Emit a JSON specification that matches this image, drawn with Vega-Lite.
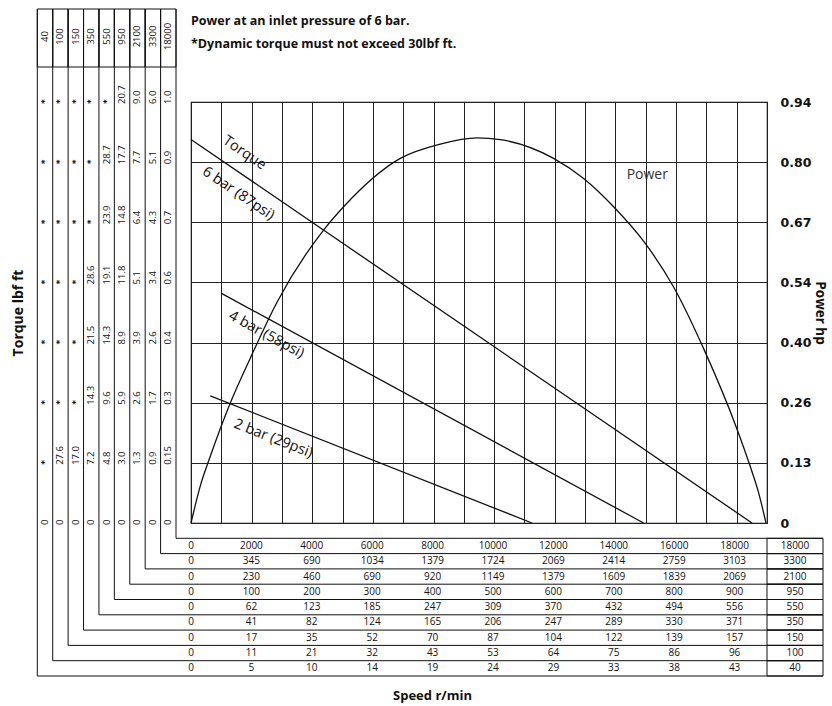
{
  "$schema": "https://vega.github.io/schema/vega-lite/v6.json",
  "width": 576,
  "height": 421,
  "autosize": {"type": "none"},
  "padding": {"left": 191, "top": 102, "right": 65, "bottom": 183},
  "background": "white",
  "config": {
    "view": {"stroke": "#111", "strokeWidth": 1.2},
    "font": "Open Sans",
    "text": {"font": "Open Sans", "color": "#111"}
  },
  "title": {
    "text": ["Power at an inlet pressure of 6 bar.", "*Dynamic torque must not exceed 30lbf ft."],
    "anchor": "start",
    "frame": "group",
    "font": "Open Sans",
    "fontSize": 12.5,
    "fontWeight": "bold",
    "color": "#111",
    "lineHeight": 23,
    "offset": -42
  },
  "datasets": {
    "power": [
      {"rpm": 0, "hp": 0},
      {"rpm": 307, "hp": 0.083},
      {"rpm": 637, "hp": 0.149},
      {"rpm": 1273, "hp": 0.264},
      {"rpm": 1956, "hp": 0.368},
      {"rpm": 2837, "hp": 0.493},
      {"rpm": 4374, "hp": 0.654},
      {"rpm": 5034, "hp": 0.706},
      {"rpm": 6904, "hp": 0.814},
      {"rpm": 8223, "hp": 0.846},
      {"rpm": 9434, "hp": 0.860},
      {"rpm": 10203, "hp": 0.856},
      {"rpm": 11961, "hp": 0.814},
      {"rpm": 12951, "hp": 0.769},
      {"rpm": 13940, "hp": 0.706},
      {"rpm": 14953, "hp": 0.627},
      {"rpm": 15919, "hp": 0.527},
      {"rpm": 16932, "hp": 0.386},
      {"rpm": 17987, "hp": 0.214},
      {"rpm": 18449, "hp": 0.126},
      {"rpm": 18713, "hp": 0.070},
      {"rpm": 18967, "hp": 0}
    ],
    "torque": [
      {"pressure": "6 bar", "rpm": 0, "torque": 0.911},
      {"pressure": "6 bar", "rpm": 18505, "torque": 0},
      {"pressure": "4 bar", "rpm": 990, "torque": 0.546},
      {"pressure": "4 bar", "rpm": 14930, "torque": 0},
      {"pressure": "2 bar", "rpm": 637, "torque": 0.302},
      {"pressure": "2 bar", "rpm": 11248, "torque": 0}
    ],
    "models": [
      {"model": "40"}, {"model": "100"}, {"model": "150"}, {"model": "350"}, {"model": "550"},
      {"model": "950"}, {"model": "2100"}, {"model": "3300"}, {"model": "18000"}
    ],
    "torqueTable": [
      {"model": "40", "level": 0, "value": "0"}, {"model": "40", "level": 1, "value": "*"}, {"model": "40", "level": 2, "value": "*"}, {"model": "40", "level": 3, "value": "*"}, {"model": "40", "level": 4, "value": "*"}, {"model": "40", "level": 5, "value": "*"}, {"model": "40", "level": 6, "value": "*"}, {"model": "40", "level": 7, "value": "*"},
      {"model": "100", "level": 0, "value": "0"}, {"model": "100", "level": 1, "value": "27.6"}, {"model": "100", "level": 2, "value": "*"}, {"model": "100", "level": 3, "value": "*"}, {"model": "100", "level": 4, "value": "*"}, {"model": "100", "level": 5, "value": "*"}, {"model": "100", "level": 6, "value": "*"}, {"model": "100", "level": 7, "value": "*"},
      {"model": "150", "level": 0, "value": "0"}, {"model": "150", "level": 1, "value": "17.0"}, {"model": "150", "level": 2, "value": "*"}, {"model": "150", "level": 3, "value": "*"}, {"model": "150", "level": 4, "value": "*"}, {"model": "150", "level": 5, "value": "*"}, {"model": "150", "level": 6, "value": "*"}, {"model": "150", "level": 7, "value": "*"},
      {"model": "350", "level": 0, "value": "0"}, {"model": "350", "level": 1, "value": "7.2"}, {"model": "350", "level": 2, "value": "14.3"}, {"model": "350", "level": 3, "value": "21.5"}, {"model": "350", "level": 4, "value": "28.6"}, {"model": "350", "level": 5, "value": "*"}, {"model": "350", "level": 6, "value": "*"}, {"model": "350", "level": 7, "value": "*"},
      {"model": "550", "level": 0, "value": "0"}, {"model": "550", "level": 1, "value": "4.8"}, {"model": "550", "level": 2, "value": "9.6"}, {"model": "550", "level": 3, "value": "14.3"}, {"model": "550", "level": 4, "value": "19.1"}, {"model": "550", "level": 5, "value": "23.9"}, {"model": "550", "level": 6, "value": "28.7"}, {"model": "550", "level": 7, "value": "*"},
      {"model": "950", "level": 0, "value": "0"}, {"model": "950", "level": 1, "value": "3.0"}, {"model": "950", "level": 2, "value": "5.9"}, {"model": "950", "level": 3, "value": "8.9"}, {"model": "950", "level": 4, "value": "11.8"}, {"model": "950", "level": 5, "value": "14.8"}, {"model": "950", "level": 6, "value": "17.7"}, {"model": "950", "level": 7, "value": "20.7"},
      {"model": "2100", "level": 0, "value": "0"}, {"model": "2100", "level": 1, "value": "1.3"}, {"model": "2100", "level": 2, "value": "2.6"}, {"model": "2100", "level": 3, "value": "3.9"}, {"model": "2100", "level": 4, "value": "5.1"}, {"model": "2100", "level": 5, "value": "6.4"}, {"model": "2100", "level": 6, "value": "7.7"}, {"model": "2100", "level": 7, "value": "9.0"},
      {"model": "3300", "level": 0, "value": "0"}, {"model": "3300", "level": 1, "value": "0.9"}, {"model": "3300", "level": 2, "value": "1.7"}, {"model": "3300", "level": 3, "value": "2.6"}, {"model": "3300", "level": 4, "value": "3.4"}, {"model": "3300", "level": 5, "value": "4.3"}, {"model": "3300", "level": 6, "value": "5.1"}, {"model": "3300", "level": 7, "value": "6.0"},
      {"model": "18000", "level": 0, "value": "0"}, {"model": "18000", "level": 1, "value": "0.15"}, {"model": "18000", "level": 2, "value": "0.3"}, {"model": "18000", "level": 3, "value": "0.4"}, {"model": "18000", "level": 4, "value": "0.6"}, {"model": "18000", "level": 5, "value": "0.7"}, {"model": "18000", "level": 6, "value": "0.9"}, {"model": "18000", "level": 7, "value": "1.0"}
    ],
    "speedTable": [
      {"model": "18000", "col": "0", "value": 0}, {"model": "18000", "col": "2000", "value": 2000}, {"model": "18000", "col": "4000", "value": 4000}, {"model": "18000", "col": "6000", "value": 6000}, {"model": "18000", "col": "8000", "value": 8000}, {"model": "18000", "col": "10000", "value": 10000}, {"model": "18000", "col": "12000", "value": 12000}, {"model": "18000", "col": "14000", "value": 14000}, {"model": "18000", "col": "16000", "value": 16000}, {"model": "18000", "col": "18000", "value": 18000}, {"model": "18000", "col": "max", "value": 18000},
      {"model": "3300", "col": "0", "value": 0}, {"model": "3300", "col": "2000", "value": 345}, {"model": "3300", "col": "4000", "value": 690}, {"model": "3300", "col": "6000", "value": 1034}, {"model": "3300", "col": "8000", "value": 1379}, {"model": "3300", "col": "10000", "value": 1724}, {"model": "3300", "col": "12000", "value": 2069}, {"model": "3300", "col": "14000", "value": 2414}, {"model": "3300", "col": "16000", "value": 2759}, {"model": "3300", "col": "18000", "value": 3103}, {"model": "3300", "col": "max", "value": 3300},
      {"model": "2100", "col": "0", "value": 0}, {"model": "2100", "col": "2000", "value": 230}, {"model": "2100", "col": "4000", "value": 460}, {"model": "2100", "col": "6000", "value": 690}, {"model": "2100", "col": "8000", "value": 920}, {"model": "2100", "col": "10000", "value": 1149}, {"model": "2100", "col": "12000", "value": 1379}, {"model": "2100", "col": "14000", "value": 1609}, {"model": "2100", "col": "16000", "value": 1839}, {"model": "2100", "col": "18000", "value": 2069}, {"model": "2100", "col": "max", "value": 2100},
      {"model": "950", "col": "0", "value": 0}, {"model": "950", "col": "2000", "value": 100}, {"model": "950", "col": "4000", "value": 200}, {"model": "950", "col": "6000", "value": 300}, {"model": "950", "col": "8000", "value": 400}, {"model": "950", "col": "10000", "value": 500}, {"model": "950", "col": "12000", "value": 600}, {"model": "950", "col": "14000", "value": 700}, {"model": "950", "col": "16000", "value": 800}, {"model": "950", "col": "18000", "value": 900}, {"model": "950", "col": "max", "value": 950},
      {"model": "550", "col": "0", "value": 0}, {"model": "550", "col": "2000", "value": 62}, {"model": "550", "col": "4000", "value": 123}, {"model": "550", "col": "6000", "value": 185}, {"model": "550", "col": "8000", "value": 247}, {"model": "550", "col": "10000", "value": 309}, {"model": "550", "col": "12000", "value": 370}, {"model": "550", "col": "14000", "value": 432}, {"model": "550", "col": "16000", "value": 494}, {"model": "550", "col": "18000", "value": 556}, {"model": "550", "col": "max", "value": 550},
      {"model": "350", "col": "0", "value": 0}, {"model": "350", "col": "2000", "value": 41}, {"model": "350", "col": "4000", "value": 82}, {"model": "350", "col": "6000", "value": 124}, {"model": "350", "col": "8000", "value": 165}, {"model": "350", "col": "10000", "value": 206}, {"model": "350", "col": "12000", "value": 247}, {"model": "350", "col": "14000", "value": 289}, {"model": "350", "col": "16000", "value": 330}, {"model": "350", "col": "18000", "value": 371}, {"model": "350", "col": "max", "value": 350},
      {"model": "150", "col": "0", "value": 0}, {"model": "150", "col": "2000", "value": 17}, {"model": "150", "col": "4000", "value": 35}, {"model": "150", "col": "6000", "value": 52}, {"model": "150", "col": "8000", "value": 70}, {"model": "150", "col": "10000", "value": 87}, {"model": "150", "col": "12000", "value": 104}, {"model": "150", "col": "14000", "value": 122}, {"model": "150", "col": "16000", "value": 139}, {"model": "150", "col": "18000", "value": 157}, {"model": "150", "col": "max", "value": 150},
      {"model": "100", "col": "0", "value": 0}, {"model": "100", "col": "2000", "value": 11}, {"model": "100", "col": "4000", "value": 21}, {"model": "100", "col": "6000", "value": 32}, {"model": "100", "col": "8000", "value": 43}, {"model": "100", "col": "10000", "value": 53}, {"model": "100", "col": "12000", "value": 64}, {"model": "100", "col": "14000", "value": 75}, {"model": "100", "col": "16000", "value": 86}, {"model": "100", "col": "18000", "value": 96}, {"model": "100", "col": "max", "value": 100},
      {"model": "40", "col": "0", "value": 0}, {"model": "40", "col": "2000", "value": 5}, {"model": "40", "col": "4000", "value": 10}, {"model": "40", "col": "6000", "value": 14}, {"model": "40", "col": "8000", "value": 19}, {"model": "40", "col": "10000", "value": 24}, {"model": "40", "col": "12000", "value": 29}, {"model": "40", "col": "14000", "value": 33}, {"model": "40", "col": "16000", "value": 38}, {"model": "40", "col": "18000", "value": 43}, {"model": "40", "col": "max", "value": 40}
    ]
  },
  "layer": [
    {
      "data": {"name": "power"},
      "mark": {"type": "line", "interpolate": "monotone", "stroke": "#111", "strokeWidth": 1.3},
      "encoding": {
        "x": {
          "field": "rpm", "type": "quantitative",
          "scale": {"domain": [0, 19000], "nice": false, "zero": false},
          "axis": {
            "orient": "bottom", "grid": true, "gridColor": "#222", "gridWidth": 1, "gridOpacity": 1,
            "tickCount": 19, "labels": false, "ticks": false, "domain": false,
            "title": "Speed r/min", "titleFont": "Open Sans", "titleFontSize": 13, "titleFontWeight": "bold",
            "titleColor": "#111", "titlePadding": 166, "titleX": 241
          }
        },
        "y": {
          "field": "hp", "type": "quantitative",
          "scale": {"domain": [0, 0.94], "nice": false, "zero": true},
          "axis": {
            "orient": "right",
            "values": [0, 0.134286, 0.268571, 0.402857, 0.537143, 0.671429, 0.805714, 0.94],
            "grid": true, "gridColor": "#222", "gridWidth": 1, "gridOpacity": 1,
            "labelExpr": "['0','0.13','0.26','0.40','0.54','0.67','0.80','0.94'][round(datum.value*7/0.94)]",
            "labelFont": "DejaVu Sans", "labelFontSize": 12.5, "labelFontWeight": "bold", "labelColor": "#111",
            "labelPadding": 13, "labelOverlap": false, "labelFlush": false, "labelBound": false,
            "ticks": false, "domain": false,
            "title": "Power hp", "titleFont": "Open Sans", "titleFontSize": 13.5, "titleFontWeight": "bold",
            "titleColor": "#111", "titlePadding": 2
          }
        }
      }
    },
    {
      "data": {"name": "torque"},
      "mark": {"type": "line", "stroke": "#111", "strokeWidth": 1.3},
      "encoding": {
        "x": {"field": "rpm", "type": "quantitative", "scale": {"domain": [0, 19000], "nice": false, "zero": false}, "axis": null},
        "y": {
          "field": "torque", "type": "quantitative",
          "scale": {"domain": [0, 1], "nice": false},
          "axis": {
            "orient": "left", "labels": false, "ticks": false, "domain": false, "grid": false,
            "title": "Torque lbf ft", "titleFont": "Open Sans", "titleFontSize": 14, "titleFontWeight": "bold",
            "titleColor": "#111", "titlePadding": 166
          }
        },
        "detail": {"field": "pressure", "type": "nominal"}
      }
    },
    {
      "data": {"values": [
        {"label": "Torque", "rpm": 1758, "hp": 0.826},
        {"label": "6 bar (87psi)", "rpm": 1560, "hp": 0.735}
      ]},
      "mark": {"type": "text", "angle": 34, "fontSize": 14.5, "align": "center", "baseline": "middle", "color": "#111"},
      "encoding": {
        "x": {"field": "rpm", "type": "quantitative", "scale": {"domain": [0, 19000], "nice": false, "zero": false}, "axis": null},
        "y": {"field": "hp", "type": "quantitative", "scale": {"domain": [0, 0.94], "nice": false}, "axis": null},
        "text": {"field": "label", "type": "nominal"}
      }
    },
    {
      "data": {"values": [{"label": "4 bar (58psi)", "rpm": 2484, "hp": 0.420}]},
      "mark": {"type": "text", "angle": 28.5, "fontSize": 14.5, "align": "center", "baseline": "middle", "color": "#111"},
      "encoding": {
        "x": {"field": "rpm", "type": "quantitative", "scale": {"domain": [0, 19000], "nice": false, "zero": false}, "axis": null},
        "y": {"field": "hp", "type": "quantitative", "scale": {"domain": [0, 0.94], "nice": false}, "axis": null},
        "text": {"field": "label", "type": "nominal"}
      }
    },
    {
      "data": {"values": [{"label": "2 bar (29psi)", "rpm": 2715, "hp": 0.188}]},
      "mark": {"type": "text", "angle": 21.5, "fontSize": 14.5, "align": "center", "baseline": "middle", "color": "#111"},
      "encoding": {
        "x": {"field": "rpm", "type": "quantitative", "scale": {"domain": [0, 19000], "nice": false, "zero": false}, "axis": null},
        "y": {"field": "hp", "type": "quantitative", "scale": {"domain": [0, 0.94], "nice": false}, "axis": null},
        "text": {"field": "label", "type": "nominal"}
      }
    },
    {
      "data": {"values": [{"label": "Power", "rpm": 15051, "hp": 0.777}]},
      "mark": {"type": "text", "fontSize": 14, "align": "center", "baseline": "middle", "color": "#333"},
      "encoding": {
        "x": {"field": "rpm", "type": "quantitative", "scale": {"domain": [0, 19000], "nice": false, "zero": false}, "axis": null},
        "y": {"field": "hp", "type": "quantitative", "scale": {"domain": [0, 0.94], "nice": false}, "axis": null},
        "text": {"field": "label", "type": "nominal"}
      }
    },
    {
      "data": {"name": "models"},
      "mark": {"type": "rect", "filled": false, "stroke": "#111", "strokeWidth": 1},
      "encoding": {
        "x": {"field": "model", "type": "nominal", "scale": {"type": "band", "domain": ["40", "100", "150", "350", "550", "950", "2100", "3300", "18000"], "range": [-153.7, -15], "paddingInner": 0, "paddingOuter": 0}, "axis": null},
        "y": {"value": -93},
        "y2": {"value": -35}
      }
    },
    {
      "data": {"name": "torqueTable"},
      "transform": [{"filter": "datum.value != '*'"}],
      "mark": {"type": "text", "angle": 270, "align": "left", "baseline": "middle", "dx": -2, "font": "Open Sans", "fontSize": 9.5, "color": "#111"},
      "encoding": {
        "x": {
          "field": "model", "type": "nominal", "bandPosition": 0.5,
          "scale": {"type": "band", "domain": ["40", "100", "150", "350", "550", "950", "2100", "3300", "18000"], "range": [-153.7, -15], "paddingInner": 0, "paddingOuter": 0},
          "axis": {
            "orient": "top", "offset": 35, "domain": false, "ticks": false, "grid": false,
            "labelAngle": 270, "labelAlign": "center", "labelBaseline": "middle", "labelPadding": 31,
            "labelFont": "Open Sans", "labelFontSize": 9.5, "labelColor": "#111",
            "labelOverlap": false, "labelBound": false, "labelFlush": false, "title": null
          }
        },
        "y": {"field": "level", "type": "quantitative", "scale": {"domain": [0, 7], "nice": false}, "axis": null},
        "text": {"field": "value", "type": "nominal"}
      }
    },
    {
      "data": {"name": "torqueTable"},
      "transform": [{"filter": "datum.value == '*'"}],
      "mark": {"type": "text", "angle": 270, "align": "left", "baseline": "middle", "dx": -2, "font": "DejaVu Sans", "fontSize": 9, "fontWeight": "bold", "color": "#000"},
      "encoding": {
        "x": {
          "field": "model", "type": "nominal", "bandPosition": 0.5,
          "scale": {"type": "band", "domain": ["40", "100", "150", "350", "550", "950", "2100", "3300", "18000"], "range": [-153.7, -15], "paddingInner": 0, "paddingOuter": 0},
          "axis": null
        },
        "y": {"field": "level", "type": "quantitative", "scale": {"domain": [0, 7], "nice": false}, "axis": null},
        "text": {"field": "value", "type": "nominal"}
      }
    },
    {
      "data": {"name": "models"},
      "mark": {"type": "rule", "stroke": "#111", "strokeWidth": 1},
      "encoding": {
        "x": {"field": "model", "type": "nominal", "bandPosition": 0, "scale": {"type": "band", "domain": ["40", "100", "150", "350", "550", "950", "2100", "3300", "18000"], "range": [-153.7, -15], "paddingInner": 0, "paddingOuter": 0}, "axis": null},
        "y": {"field": "model", "type": "nominal", "bandPosition": 1, "scale": {"type": "band", "domain": ["18000", "3300", "2100", "950", "550", "350", "150", "100", "40"], "range": [436.3, 574], "paddingInner": 0, "paddingOuter": 0}, "axis": null},
        "y2": {"value": -93}
      }
    },
    {
      "data": {"name": "models"},
      "mark": {"type": "rule", "stroke": "#111", "strokeWidth": 1},
      "encoding": {
        "x": {"field": "model", "type": "nominal", "bandPosition": 0, "scale": {"type": "band", "domain": ["40", "100", "150", "350", "550", "950", "2100", "3300", "18000"], "range": [-153.7, -15], "paddingInner": 0, "paddingOuter": 0}, "axis": null},
        "x2": {"value": 632},
        "y": {"field": "model", "type": "nominal", "bandPosition": 1, "scale": {"type": "band", "domain": ["18000", "3300", "2100", "950", "550", "350", "150", "100", "40"], "range": [436.3, 574], "paddingInner": 0, "paddingOuter": 0}, "axis": null}
      }
    },
    {
      "data": {"name": "models"},
      "transform": [{"filter": "datum.model == '18000'"}],
      "mark": {"type": "rule", "stroke": "#111", "strokeWidth": 1},
      "encoding": {
        "x": {"field": "model", "type": "nominal", "bandPosition": 1, "scale": {"type": "band", "domain": ["40", "100", "150", "350", "550", "950", "2100", "3300", "18000"], "range": [-153.7, -15], "paddingInner": 0, "paddingOuter": 0}, "axis": null},
        "y": {"field": "model", "type": "nominal", "bandPosition": 0, "scale": {"type": "band", "domain": ["18000", "3300", "2100", "950", "550", "350", "150", "100", "40"], "range": [436.3, 574], "paddingInner": 0, "paddingOuter": 0}, "axis": null},
        "y2": {"value": -93}
      }
    },
    {
      "data": {"name": "models"},
      "transform": [{"filter": "datum.model == '18000'"}],
      "mark": {"type": "rule", "stroke": "#111", "strokeWidth": 1},
      "encoding": {
        "x": {"field": "model", "type": "nominal", "bandPosition": 1, "scale": {"type": "band", "domain": ["40", "100", "150", "350", "550", "950", "2100", "3300", "18000"], "range": [-153.7, -15], "paddingInner": 0, "paddingOuter": 0}, "axis": null},
        "x2": {"value": 632},
        "y": {"field": "model", "type": "nominal", "bandPosition": 0, "scale": {"type": "band", "domain": ["18000", "3300", "2100", "950", "550", "350", "150", "100", "40"], "range": [436.3, 574], "paddingInner": 0, "paddingOuter": 0}, "axis": null}
      }
    },
    {
      "data": {"name": "models"},
      "mark": {"type": "rect", "filled": false, "stroke": "#111", "strokeWidth": 1},
      "encoding": {
        "x": {"value": 576},
        "x2": {"value": 632},
        "y": {"field": "model", "type": "nominal", "scale": {"type": "band", "domain": ["18000", "3300", "2100", "950", "550", "350", "150", "100", "40"], "range": [436.3, 574], "paddingInner": 0, "paddingOuter": 0}, "axis": null}
      }
    },
    {
      "data": {"name": "speedTable"},
      "mark": {"type": "text", "align": "center", "baseline": "middle", "font": "Open Sans", "fontSize": 10, "color": "#111"},
      "encoding": {
        "x": {"field": "col", "type": "nominal", "scale": {"type": "point", "domain": ["0", "2000", "4000", "6000", "8000", "10000", "12000", "14000", "16000", "18000", "max"], "range": [0, 604], "padding": 0}, "axis": null},
        "y": {"field": "model", "type": "nominal", "bandPosition": 0.5, "scale": {"type": "band", "domain": ["18000", "3300", "2100", "950", "550", "350", "150", "100", "40"], "range": [436.3, 574], "paddingInner": 0, "paddingOuter": 0}, "axis": null},
        "text": {"field": "value", "type": "nominal"}
      }
    }
  ],
  "resolve": {"scale": {"x": "independent", "y": "independent"}, "axis": {"x": "independent", "y": "independent"}}
}
